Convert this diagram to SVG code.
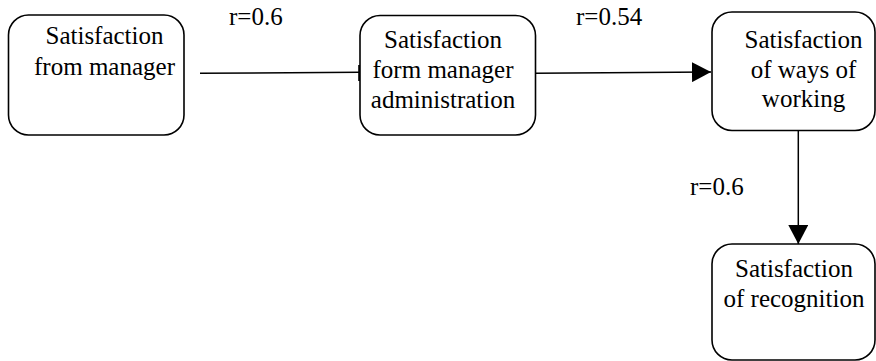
<svg xmlns="http://www.w3.org/2000/svg" width="876" height="361" viewBox="0 0 876 361">
<style>
.box{fill:#fff;stroke:#000;stroke-width:1.6}
text{font-family:'Liberation Serif','Times New Roman',Times,'DejaVu Serif',serif;font-size:25px;fill:#000}
.c{text-anchor:middle}
.ln{stroke:#000;stroke-width:1.5;fill:none}
</style>
<defs>
<marker id="ah" markerWidth="19" markerHeight="20" refX="19" refY="10" orient="auto" markerUnits="userSpaceOnUse">
<path d="M0,0 L19,10 L0,20 Z" fill="#000"/>
</marker>
</defs>
<rect width="876" height="361" fill="#fff"/>
<g id="connectors">
<path class="ln" d="M200,73.3 L360,72.3"/>
<path d="M359.3,65 L359.3,81" stroke="#000" stroke-width="2.2"/>
<path class="ln" d="M535.5,73.3 L711,72" marker-end="url(#ah)"/>
<path class="ln" d="M798.3,130.5 L798.3,244" marker-end="url(#ah)"/>
</g>
<g id="label-r1"><text font-family="Liberation Serif, serif" x="229" y="25">r=0.6</text></g>
<g id="label-r2"><text font-family="Liberation Serif, serif" x="576" y="25">r=0.54</text></g>
<g id="label-r3"><text font-family="Liberation Serif, serif" x="690" y="195">r=0.6</text></g>
<g id="node-manager">
<rect class="box" x="8.5" y="15" width="175.5" height="120" rx="20"/>
<text class="c" x="104.5" y="44">Satisfaction</text>
<text class="c" x="104.5" y="75">from manager</text>
</g>
<g id="node-administration">
<rect class="box" x="360" y="15.5" width="175.5" height="119.5" rx="20"/>
<text class="c" x="443" y="47.5">Satisfaction</text>
<text class="c" x="443" y="77.5">form manager</text>
<text class="c" x="443" y="107.5">administration</text>
</g>
<g id="node-ways">
<rect class="box" x="712" y="12" width="163" height="118.5" rx="20"/>
<text class="c" x="803.5" y="48">Satisfaction</text>
<text class="c" x="803.5" y="78">of ways of</text>
<text class="c" x="803.5" y="107">working</text>
</g>
<g id="node-recognition">
<rect class="box" x="712" y="244" width="163" height="116" rx="20"/>
<text class="c" x="794" y="277">Satisfaction</text>
<text class="c" x="794" y="307">of recognition</text>
</g>
</svg>
